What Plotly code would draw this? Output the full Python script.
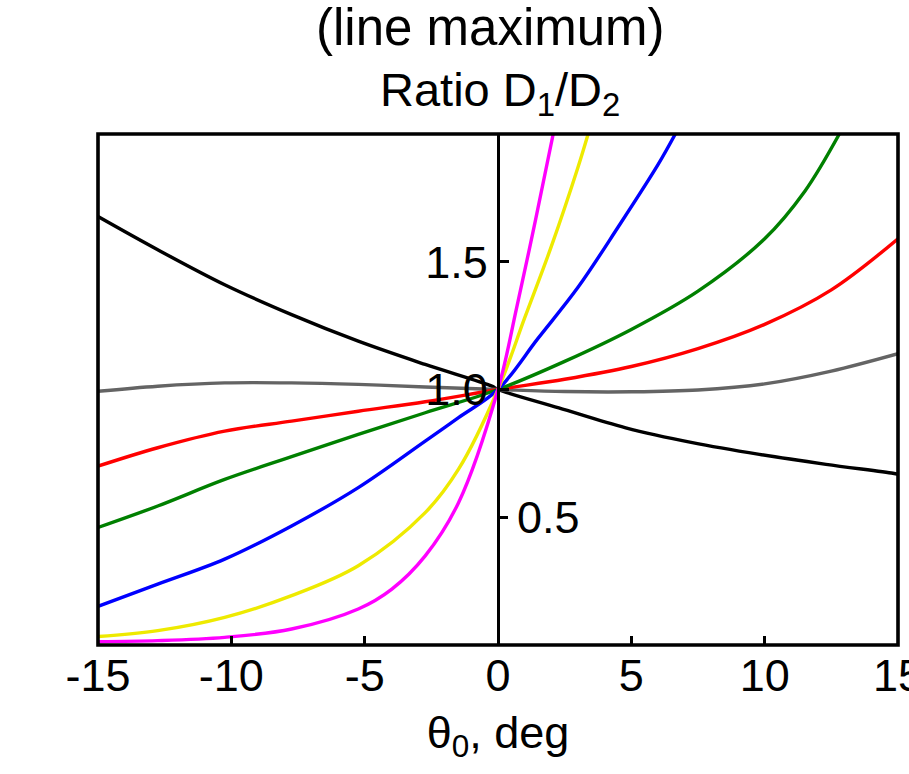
import plotly.graph_objects as go

# theta_0 (deg) and ratio D1/D2 for each curve
black_x = [-15.0, -12.76, -10.25, -7.74, -5.24, -2.73, -0.23, 0.0, 2.28, 4.79, 7.29, 9.80, 12.30, 14.81, 15.0]
black_y = [1.677, 1.547, 1.410, 1.293, 1.189, 1.098, 1.013, 1.0, 0.928, 0.850, 0.792, 0.746, 0.707, 0.672, 0.668]

gray_x = [-15.0, -12.76, -10.25, -7.74, -5.24, -2.73, 0.0, 2.5, 5.0, 7.5, 10.0, 12.5, 15.0]
gray_y = [0.993, 1.013, 1.026, 1.026, 1.020, 1.010, 1.0, 0.992, 0.991, 0.998, 1.022, 1.072, 1.14]

red_x = [-15.0, -12.76, -10.25, -7.74, -5.24, -2.73, 0.0, 2.5, 5.0, 7.5, 10.0, 12.5, 15.0]
red_y = [0.700, 0.772, 0.837, 0.876, 0.915, 0.952, 1.0, 1.04, 1.09, 1.16, 1.255, 1.39, 1.59]

green_x = [-15.0, -12.76, -10.25, -7.74, -5.24, -2.73, 0.0, 2.5, 5.0, 7.5, 10.0, 11.5, 12.8]
green_y = [0.460, 0.544, 0.648, 0.737, 0.824, 0.909, 1.0, 1.11, 1.235, 1.385, 1.59, 1.775, 2.0]

blue_x = [-15.0, -12.76, -10.25, -7.74, -5.24, -2.73, -1.48, 0.0, 1.5, 3.0, 4.5, 6.0, 6.65]
blue_y = [0.151, 0.238, 0.336, 0.466, 0.616, 0.798, 0.89, 1.0, 1.2, 1.4, 1.635, 1.88, 2.0]

yellow_x = [-15.0, -12.76, -10.25, -7.74, -5.24, -2.73, -1.48, 0.0, 1.0, 2.0, 3.0, 3.38]
yellow_y = [0.033, 0.056, 0.108, 0.193, 0.310, 0.518, 0.688, 1.0, 1.28, 1.56, 1.87, 2.0]

magenta_x = [-15.0, -12.76, -10.25, -7.74, -5.24, -3.98, -2.73, -1.48, 0.0, 0.7, 1.4, 2.07]
magenta_y = [0.013, 0.017, 0.030, 0.0625, 0.141, 0.219, 0.349, 0.557, 1.0, 1.32, 1.66, 2.0]

x_ticks = [-15, -10, -5, 0, 5, 10, 15]
x_tick_text = ["-15", "-10", "-5", "0", "5", "10", "15"]
y_ticks_left = [1.0, 1.5]
y_ticks_left_text = ["1.0", "1.5"]
y_ticks_right = [0.5]
y_ticks_right_text = ["0.5"]

FONT = "Liberation Sans, Arial, sans-serif"
FS = 45

series = [
    (black_x, black_y, "#000000"),
    (gray_x, gray_y, "#646464"),
    (red_x, red_y, "#ff0000"),
    (green_x, green_y, "#008000"),
    (blue_x, blue_y, "#0000ff"),
    (yellow_x, yellow_y, "#eeea00"),
    (magenta_x, magenta_y, "#ff00ff"),
]

fig = go.Figure()
for xs, ys, col in series:
    fig.add_trace(go.Scatter(x=xs, y=ys, mode="lines",
                             line=dict(color=col, width=3.4, shape="spline", smoothing=1.0),
                             showlegend=False, hoverinfo="skip"))
# empty trace so the right-hand label axis is drawn
fig.add_trace(go.Scatter(x=[None], y=[None], yaxis="y2", mode="lines",
                         showlegend=False, hoverinfo="skip"))

fig.update_layout(
    width=909, height=774,
    margin=dict(l=98, r=11, t=134, b=129, autoexpand=False),
    paper_bgcolor="white", plot_bgcolor="white",
    font=dict(family=FONT, size=FS, color="black"),
    xaxis=dict(range=[-15, 15], domain=[0, 1], tickvals=x_ticks, ticktext=x_tick_text,
               ticks="inside", ticklen=9, tickwidth=3, tickcolor="black",
               showline=False, showgrid=False, zeroline=False,
               automargin=False, ticklabeloverflow="allow",
               tickfont=dict(family=FONT, size=FS),
               title=dict(text="θ<sub>0</sub>, deg", font=dict(family=FONT, size=FS), standoff=16)),
    yaxis=dict(range=[0, 2], anchor="free", position=0.5, side="left",
               tickvals=y_ticks_left, ticktext=y_ticks_left_text,
               ticks="inside", ticklen=9, tickwidth=3, tickcolor="black",
               showline=True, linewidth=3.4, linecolor="black",
               showgrid=False, zeroline=False, automargin=False,
               tickfont=dict(family=FONT, size=FS)),
    yaxis2=dict(range=[0, 2], anchor="free", position=0.5, side="right", overlaying="y",
                tickvals=y_ticks_right, ticktext=y_ticks_right_text,
                ticks="outside", ticklen=9, tickwidth=3, tickcolor="black",
                showline=False, showgrid=False, zeroline=False, automargin=False,
                tickfont=dict(family=FONT, size=FS)),
    shapes=[dict(type="rect", xref="paper", yref="paper", x0=0, x1=1, y0=0, y1=1,
                 line=dict(color="black", width=3.6), layer="above")],
    annotations=[
        dict(text="(line maximum)", xref="paper", yref="paper", x=0.49, y=1, yanchor="bottom",
             yshift=76, showarrow=False, font=dict(family=FONT, size=51)),
        dict(text="Ratio D<sub>1</sub>/D<sub>2</sub>", xref="paper", yref="paper", x=0.502, y=1,
             yanchor="bottom", yshift=9, showarrow=False, font=dict(family=FONT, size=47)),
    ],
)

fig.write_html("out.html", config={"displayModeBar": False},
               post_script="document.body.style.margin='0';")
